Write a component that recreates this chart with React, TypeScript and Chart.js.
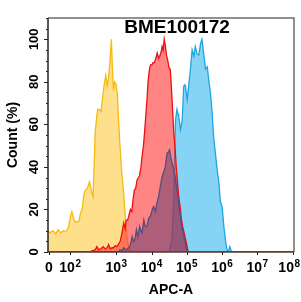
import React, { useEffect, useRef } from "react";
import { Chart, registerables } from "chart.js";

Chart.register(...registerables);

// x values are in decades of APC-A (biexponential display axis), y = Count (%)
const yellowX = [1.06, 1.12, 1.2, 1.28, 1.35, 1.42, 1.5, 1.57, 1.64, 1.7, 1.74, 1.8, 1.86, 1.94, 1.98, 2.03, 2.08, 2.12, 2.18, 2.24, 2.3, 2.34, 2.37, 2.4, 2.44, 2.47, 2.52, 2.57, 2.6, 2.65, 2.7, 2.74, 2.78, 2.82, 2.86, 2.89, 2.92, 2.95, 2.99, 3.03, 3.06, 3.1, 3.15, 3.2, 3.24, 3.28, 3.32, 3.36, 3.4, 3.45, 8.04];
const yellowY = [10, 9, 10, 8.5, 10.5, 9, 10, 9.5, 11.5, 17, 19, 15, 14, 14.5, 18, 20, 27, 29, 30, 33, 28, 26, 40, 56, 63, 67, 67, 66, 71, 78, 83, 78, 82, 90, 100, 86, 76, 80, 79, 74, 63, 51, 38, 29, 20, 10, 5, 2, 0.5, 0, 0];

const redX = [1.06, 2.25, 2.31, 2.4, 2.45, 2.5, 2.56, 2.63, 2.68, 2.74, 2.78, 2.83, 2.88, 2.92, 2.97, 3.02, 3.07, 3.11, 3.16, 3.21, 3.25, 3.28, 3.32, 3.35, 3.4, 3.44, 3.47, 3.51, 3.55, 3.59, 3.63, 3.66, 3.7, 3.73, 3.77, 3.8, 3.84, 3.87, 3.9, 3.94, 3.97, 4.01, 4.04, 4.08, 4.11, 4.16, 4.2, 4.23, 4.27, 4.3, 4.33, 4.36, 4.39, 4.42, 4.46, 4.49, 4.53, 4.56, 4.58, 4.63, 4.67, 4.7, 4.74, 4.77, 4.82, 4.84, 4.88, 4.91, 4.95, 4.99, 5.02, 5.04, 8.04];
const redY = [0, 0, 0.5, 1, 2.5, 1, 1.5, 2.5, 1.5, 2, 3.5, 1.5, 2, 2, 3, 2.6, 4, 5, 9, 13.6, 11, 15, 15, 16.7, 20, 19, 24, 29, 30, 34, 35, 36, 40, 45, 50, 56, 65, 71.5, 80, 86, 88, 88, 89, 89, 90.5, 93.5, 91, 92, 94, 96.6, 95, 100, 97, 92.7, 90, 87, 85.7, 78, 71.5, 56, 48, 40, 32, 26, 20, 16, 12, 10, 7, 4, 1.5, 0, 0];

const purpleX = [1.06, 3.05, 3.11, 3.16, 3.21, 3.28, 3.35, 3.4, 3.45, 3.49, 3.53, 3.57, 3.61, 3.66, 3.7, 3.73, 3.78, 3.82, 3.87, 3.92, 3.97, 4.02, 4.06, 4.11, 4.15, 4.2, 4.25, 4.3, 4.35, 4.39, 4.44, 4.48, 4.51, 4.55, 4.58, 4.63, 4.68, 4.73, 4.77, 4.82, 4.88, 4.95, 5.0, 5.03, 8.04];
const purpleY = [0, 0, 1, 0.5, 2, 1, 2, 3.4, 7.3, 5, 6, 10.5, 7, 12, 10, 9, 15, 12, 12, 16, 17, 20, 21.4, 19, 23, 26, 31, 35.5, 38, 40, 46.5, 47, 48, 44, 42, 38.7, 34, 28, 23, 17, 10, 5, 1, 0, 0];

const blueX = [1.06, 4.5, 4.58, 4.63, 4.66, 4.68, 4.72, 4.75, 4.77, 4.82, 4.87, 4.91, 4.94, 4.96, 5.01, 5.05, 5.1, 5.15, 5.2, 5.24, 5.29, 5.34, 5.39, 5.43, 5.48, 5.53, 5.58, 5.62, 5.67, 5.72, 5.76, 5.81, 5.86, 5.91, 5.95, 6.0, 6.05, 6.1, 6.14, 6.18, 6.22, 6.26, 6.29, 8.04];
const blueY = [0, 0, 6, 25, 50, 62, 67, 65, 63.7, 57.5, 62, 77.8, 78.6, 78, 71.5, 77.8, 85.7, 95, 92, 96.6, 93, 92.6, 98, 100, 93, 86, 87, 81, 74.7, 65, 54, 46.5, 38.7, 32.4, 23.8, 21.4, 12, 5, 1, 0.5, 2.5, 0.5, 0, 0];

const xTickPos = [1.09, 1.69, 3, 4, 5, 6, 7, 8];
const xTickBase = ["0", "10", "10", "10", "10", "10", "10", "10"];
const xTickSup = ["", "2", "3", "4", "5", "6", "7", "8"];
const yTicks = [0, 20, 40, 60, 80, 100];

const X_MIN = 1.062;
const X_MAX = 8.04;
const FONT = '"Liberation Sans", Arial, sans-serif';

const toPts = (xs: number[], ys: number[]) => xs.map((x, i) => ({ x, y: ys[i] }));

const decor = {
  id: "decor",
  afterDatasetsDraw(chart: any) {
    const { ctx, chartArea, scales, width } = chart;
    const { left, right, top, bottom } = chartArea;
    const xs = scales.x;
    const ys = scales.y;
    ctx.save();
    ctx.strokeStyle = "#6e6e6e";
    ctx.lineWidth = 1.5;
    ctx.beginPath();
    ctx.moveTo(left, top);
    ctx.lineTo(right, top);
    ctx.lineTo(right, bottom);
    ctx.stroke();
    ctx.strokeStyle = "#222";
    ctx.lineWidth = 1.5;
    ctx.beginPath();
    ctx.moveTo(left, top);
    ctx.lineTo(left, bottom);
    ctx.stroke();
    ctx.strokeStyle = "#5a3a32";
    ctx.beginPath();
    ctx.moveTo(left, bottom);
    ctx.lineTo(right, bottom);
    ctx.stroke();
    ctx.strokeStyle = "#222";
    ctx.lineWidth = 1;
    for (let v = 0; v <= 110; v += 5) {
      const py = Math.round(ys.getPixelForValue(v)) + 0.5;
      const len = v % 20 === 0 ? 4 : 2;
      ctx.beginPath();
      ctx.moveTo(left - len, py);
      ctx.lineTo(left, py);
      ctx.stroke();
    }
    for (const p of xTickPos) {
      const px = Math.round(xs.getPixelForValue(p)) + 0.5;
      ctx.beginPath();
      ctx.moveTo(px, bottom);
      ctx.lineTo(px, bottom + 3);
      ctx.stroke();
    }
    ctx.fillStyle = "#000";
    ctx.font = `bold 13px ${FONT}`;
    ctx.textAlign = "center";
    ctx.textBaseline = "alphabetic";
    for (const v of yTicks) {
      ctx.save();
      ctx.translate(38, ys.getPixelForValue(v));
      ctx.rotate(-Math.PI / 2);
      ctx.fillText(String(v), 0, 0);
      ctx.restore();
    }
    for (let i = 0; i < xTickPos.length; i++) {
      ctx.font = `bold 14px ${FONT}`;
      const wb = ctx.measureText(xTickBase[i]).width;
      ctx.font = `bold 10px ${FONT}`;
      const wsup = xTickSup[i] ? ctx.measureText(xTickSup[i]).width + 0.5 : 0;
      const w = wb + wsup;
      let cx = xs.getPixelForValue(xTickPos[i]);
      cx = Math.min(cx, width - w / 2 - 1);
      const x0 = cx - w / 2;
      ctx.textAlign = "left";
      ctx.font = `bold 14px ${FONT}`;
      ctx.fillText(xTickBase[i], x0, 272);
      if (xTickSup[i]) {
        ctx.font = `bold 10px ${FONT}`;
        ctx.fillText(xTickSup[i], x0 + wb + 0.5, 266.5);
      }
    }
    ctx.textAlign = "center";
    ctx.font = `bold 14px ${FONT}`;
    ctx.fillText("APC-A", (left + right) / 2, 294);
    ctx.save();
    ctx.translate(17, (top + bottom) / 2);
    ctx.rotate(-Math.PI / 2);
    ctx.fillText("Count (%)", 0, 0);
    ctx.restore();
    ctx.font = `bold 19px ${FONT}`;
    ctx.fillText("BME100172", 177, 33);
    ctx.restore();
  },
};

export default function App() {
  const ref = useRef<HTMLCanvasElement>(null);
  useEffect(() => {
    document.body.style.margin = "0";
    const canvas = ref.current;
    if (!canvas) return;
    const common = { pointRadius: 0, borderWidth: 1.3, tension: 0, fill: "origin" as const };
    const chart = new Chart(canvas, {
      type: "line",
      data: {
        datasets: [
          { ...common, label: "purple", data: toPts(purpleX, purpleY), borderColor: "#5b4a7c", backgroundColor: "rgba(92,58,112,0.5)", order: 1 },
          { ...common, label: "red", data: toPts(redX, redY), borderColor: "#ee1010", backgroundColor: "rgba(255,50,50,0.6)", order: 2 },
          { ...common, label: "blue", data: toPts(blueX, blueY), borderColor: "#1fa6e2", backgroundColor: "#86d4f5", order: 3 },
          { ...common, label: "yellow", data: toPts(yellowX, yellowY), borderColor: "#f4bb10", backgroundColor: "#fddf8c", order: 4 },
        ],
      },
      options: {
        animation: false,
        responsive: false,
        parsing: false as any,
        layout: { padding: { left: 48, right: 7, top: 18, bottom: 50 } },
        plugins: { legend: { display: false }, tooltip: { enabled: false }, title: { display: false } },
        scales: {
          x: { type: "linear", display: false, min: X_MIN, max: X_MAX },
          y: { type: "linear", display: false, min: 0, max: 110 },
        },
      },
      plugins: [decor],
    });
    return () => chart.destroy();
  }, []);
  return (
    <div style={{ position: "absolute", left: 0, top: 0, width: 301, height: 302, background: "#fff" }}>
      <canvas ref={ref} width={301} height={302} style={{ width: 301, height: 302 }} />
    </div>
  );
}
